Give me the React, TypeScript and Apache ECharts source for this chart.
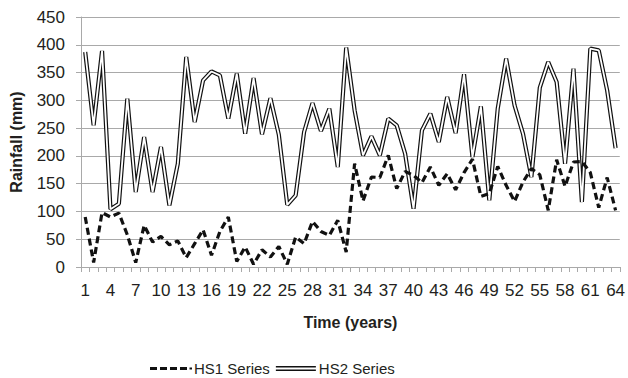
import React, { useEffect, useRef } from "react";
import * as echarts from "echarts";

const years = [
  "1", "2", "3", "4", "5", "6", "7", "8", "9", "10", "11", "12", "13", "14", "15", "16",
  "17", "18", "19", "20", "21", "22", "23", "24", "25", "26", "27", "28", "29", "30", "31", "32",
  "33", "34", "35", "36", "37", "38", "39", "40", "41", "42", "43", "44", "45", "46", "47", "48",
  "49", "50", "51", "52", "53", "54", "55", "56", "57", "58", "59", "60", "61", "62", "63", "64",
];

const hs1 = [
  90, 8, 98, 90, 97, 58, 8, 75, 45, 55, 40, 47, 17, 42, 67, 21,
  64, 90, 10, 36, 5, 31, 18, 37, 5, 54, 42, 82, 64, 57, 84, 27,
  186, 119, 162, 161, 201, 141, 172, 165, 152, 180, 147, 168, 139, 170, 194, 127,
  132, 181, 147, 118, 153, 177, 166, 102, 193, 145, 189, 190, 170, 107, 161, 102,
];

const hs2 = [
  387, 255, 389, 104, 114, 303, 135, 234, 135, 216, 111, 186, 378, 261, 336, 352,
  345, 267, 348, 240, 340, 239, 304, 238, 112, 129, 243, 295, 245, 285, 180, 395,
  282, 201, 235, 201, 267, 255, 204, 105, 246, 276, 225, 306, 241, 347, 198, 289,
  120, 285, 375, 291, 240, 162, 323, 369, 333, 186, 357, 117, 393, 390, 318, 214,
];

const yTicks = { min: 0, max: 450, interval: 50 };

const FONT = "Liberation Sans, Arial, sans-serif";
const TEXT = "#231f20";
const GRID = "#a9a9a9";

export default function App() {
  const ref = useRef<HTMLDivElement>(null);
  useEffect(() => {
    if (!ref.current) return;
    const chart = echarts.init(ref.current, undefined, { renderer: "svg" });
    chart.setOption({
      animation: false,
      backgroundColor: "#ffffff",
      textStyle: { fontFamily: FONT, color: TEXT },
      grid: { left: 78, right: 7, top: 17, bottom: 111, containLabel: false },
      legend: {
        top: 356,
        left: 145,
        itemWidth: 42,
        itemHeight: 5,
        itemGap: 6,
        textStyle: { fontFamily: FONT, fontSize: 15, color: TEXT, padding: [0, 0, 0, -3] },
        data: [
          {
            name: "HS1 Series",
            icon: "path://M0,0H7V3H0Z M10,0H17V3H10Z M20,0H27V3H20Z M30,0H37V3H30Z M39.5,0.6H42V2.4H39.5Z",
          },
          {
            name: "HS2 Series",
            icon: "path://M0,0H40V5H0Z M0,1.5V3.5H40V1.5Z",
          },
        ],
      },
      xAxis: {
        type: "category",
        data: years,
        boundaryGap: true,
        name: "Time (years)",
        nameLocation: "middle",
        nameGap: 47,
        nameTextStyle: { fontFamily: FONT, fontWeight: "bold", fontSize: 16, color: TEXT },
        axisLine: { lineStyle: { color: GRID, width: 1 } },
        axisTick: { show: true, interval: 0, length: 5, lineStyle: { color: GRID } },
        axisLabel: { interval: 2, fontSize: 17, color: TEXT, margin: 15, fontFamily: FONT },
        splitLine: { show: false },
      },
      yAxis: {
        type: "value",
        min: yTicks.min,
        max: yTicks.max,
        interval: yTicks.interval,
        name: "Rainfall (mm)",
        nameLocation: "middle",
        nameGap: 57,
        nameTextStyle: { fontFamily: FONT, fontWeight: "bold", fontSize: 16, color: TEXT },
        axisLine: { show: true, lineStyle: { color: GRID, width: 1 } },
        axisTick: { show: true, length: 5, lineStyle: { color: GRID } },
        axisLabel: { fontSize: 17, color: TEXT, margin: 16, fontFamily: FONT },
        splitLine: { show: true, lineStyle: { color: GRID, width: 1 } },
      },
      series: [
        {
          name: "HS2 Series",
          type: "line",
          data: hs2,
          symbol: "none",
          showSymbol: false,
          color: "#111111",
          itemStyle: { color: "#111111" },
          lineStyle: { color: "#111111", width: 4.2 },
          z: 2,
        },
        {
          name: "HS2 inner",
          type: "line",
          data: hs2,
          symbol: "none",
          showSymbol: false,
          silent: true,
          lineStyle: { color: "#ffffff", width: 1.8 },
          z: 3,
        },
        {
          name: "HS1 Series",
          type: "line",
          data: hs1,
          symbol: "none",
          showSymbol: false,
          color: "#111111",
          itemStyle: { color: "#111111" },
          lineStyle: { color: "#111111", width: 3.2, type: [7, 4] },
          z: 4,
        },
      ],
    });
    return () => chart.dispose();
  }, []);
  return (
    <div
      ref={ref}
      style={{ position: "fixed", left: 0, top: 0, width: 628, height: 378, background: "#fff" }}
    />
  );
}
